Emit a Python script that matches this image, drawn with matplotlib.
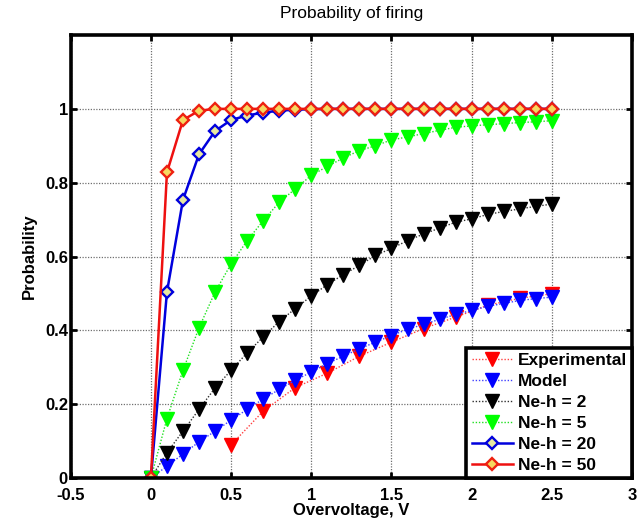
import matplotlib.pyplot as plt
import numpy as np

plt.rcParams['font.family'] = ['Liberation Sans', 'DejaVu Sans']

# overvoltage grid for the simulated curves
v = [0.0, 0.1, 0.2, 0.3, 0.4, 0.5, 0.6, 0.7, 0.8, 0.9, 1.0, 1.1, 1.2,
     1.3, 1.4, 1.5, 1.6, 1.7, 1.8, 1.9, 2.0, 2.1, 2.2, 2.3, 2.4, 2.5]

# measured points
v_exp = [0.5, 0.7, 0.9, 1.1, 1.3, 1.5, 1.7, 1.9, 2.1, 2.3, 2.5]
p_exp = [0.090, 0.181, 0.245, 0.284, 0.330, 0.368, 0.405, 0.436, 0.468, 0.487, 0.499]

p_model = [0.0, 0.032, 0.065, 0.098, 0.127, 0.157, 0.186, 0.214, 0.240, 0.265,
           0.287, 0.310, 0.330, 0.350, 0.368, 0.386, 0.403, 0.416, 0.430, 0.443,
           0.454, 0.465, 0.473, 0.481, 0.486, 0.490]

p_neh2 = [0.0, 0.069, 0.127, 0.186, 0.244, 0.292, 0.339, 0.382, 0.424, 0.459,
          0.493, 0.524, 0.551, 0.576, 0.603, 0.622, 0.643, 0.661, 0.677, 0.693,
          0.702, 0.714, 0.722, 0.729, 0.736, 0.742]

p_neh5 = [0.0, 0.161, 0.292, 0.407, 0.504, 0.580, 0.643, 0.697, 0.747, 0.783,
          0.820, 0.844, 0.867, 0.887, 0.900, 0.916, 0.924, 0.933, 0.942, 0.950,
          0.954, 0.957, 0.960, 0.963, 0.965, 0.968]

p_neh20 = [0.0, 0.504, 0.754, 0.877, 0.940, 0.970, 0.982, 0.990, 0.995, 0.998,
           0.999, 1.0, 1.0, 1.0, 1.0, 1.0, 1.0, 1.0, 1.0, 1.0,
           1.0, 1.0, 1.0, 1.0, 1.0, 1.0]

p_neh50 = [0.0, 0.828, 0.970, 0.995, 1.0, 1.0, 1.0, 1.0, 1.0, 1.0,
           1.0, 1.0, 1.0, 1.0, 1.0, 1.0, 1.0, 1.0, 1.0, 1.0,
           1.0, 1.0, 1.0, 1.0, 1.0, 1.0]

fig = plt.figure(figsize=(6.43, 5.23), dpi=100)
ax = fig.add_axes([0.110, 0.086, 0.873, 0.847])

dot = (0, (1, 1.3))
ax.plot(v_exp, p_exp, linestyle=dot, lw=1, color='#ff4040', marker='v', ms=9.5,
        mfc='#ff0000', mec='#ff0000', label='Experimental')
ax.plot(v, p_model, linestyle=dot, lw=1, color='#4040ff', marker='v', ms=9.5,
        mfc='#0000ff', mec='#0000ff', label='Model')
ax.plot(v, p_neh2, linestyle=dot, lw=1, color='#303030', marker='v', ms=9.5,
        mfc='black', mec='black', label='Ne-h = 2')
ax.plot(v, p_neh5, linestyle=dot, lw=1, color='#20e020', marker='v', ms=9.5,
        mfc='#00ff00', mec='#00ff00', label='Ne-h = 5')
ax.plot(v, p_neh20, '-', lw=1.8, color='#0000dd', marker='D', ms=6.5, mew=1.7,
        mfc='#e8e8a0', mec='#0000dd', label='Ne-h = 20')
ax.plot(v, p_neh50, '-', lw=1.8, color='#ee1010', marker='D', ms=6.5, mew=1.7,
        mfc='#f6d860', mec='#ee2010', label='Ne-h = 50')

ax.set_xlim(-0.5, 3)
ax.set_ylim(0, 1.2)
ax.set_xticks([-0.5, 0, 0.5, 1, 1.5, 2, 2.5, 3])
ax.set_xticklabels(['-0.5', '0', '0.5', '1', '1.5', '2', '2.5', '3'])
ax.set_yticks([0, 0.2, 0.4, 0.6, 0.8, 1.0])
ax.set_yticklabels(['0', '0.2', '0.4', '0.6', '0.8', '1'])

ax.grid(True, linestyle=(0, (1, 1.2)), color='#707070', lw=0.9)
ax.set_axisbelow(True)
for s in ax.spines.values():
    s.set_linewidth(2.6)
ax.tick_params(direction='in', length=4, width=2, top=True, right=True,
               labelsize=12)
ax.tick_params(axis='x', pad=7)
ax.tick_params(axis='y', pad=2)
for lab in ax.get_xticklabels() + ax.get_yticklabels():
    lab.set_fontweight('bold')

ax.set_xlabel('Overvoltage, V', fontsize=12, fontweight='bold', labelpad=0)
ax.set_ylabel('Probability', fontsize=12, fontweight='bold', labelpad=6)
ax.set_title('Probability of firing', fontsize=12.5, pad=12)

leg = ax.legend(loc='lower right', prop={'weight': 'bold', 'size': 12.5},
                handlelength=2.4, handletextpad=0.25, labelspacing=0.33,
                borderpad=0.3, borderaxespad=0.0, fancybox=False, framealpha=1)
leg.get_frame().set_edgecolor('black')
leg.get_frame().set_linewidth(2.6)

fig.savefig('out.png', dpi=100)
